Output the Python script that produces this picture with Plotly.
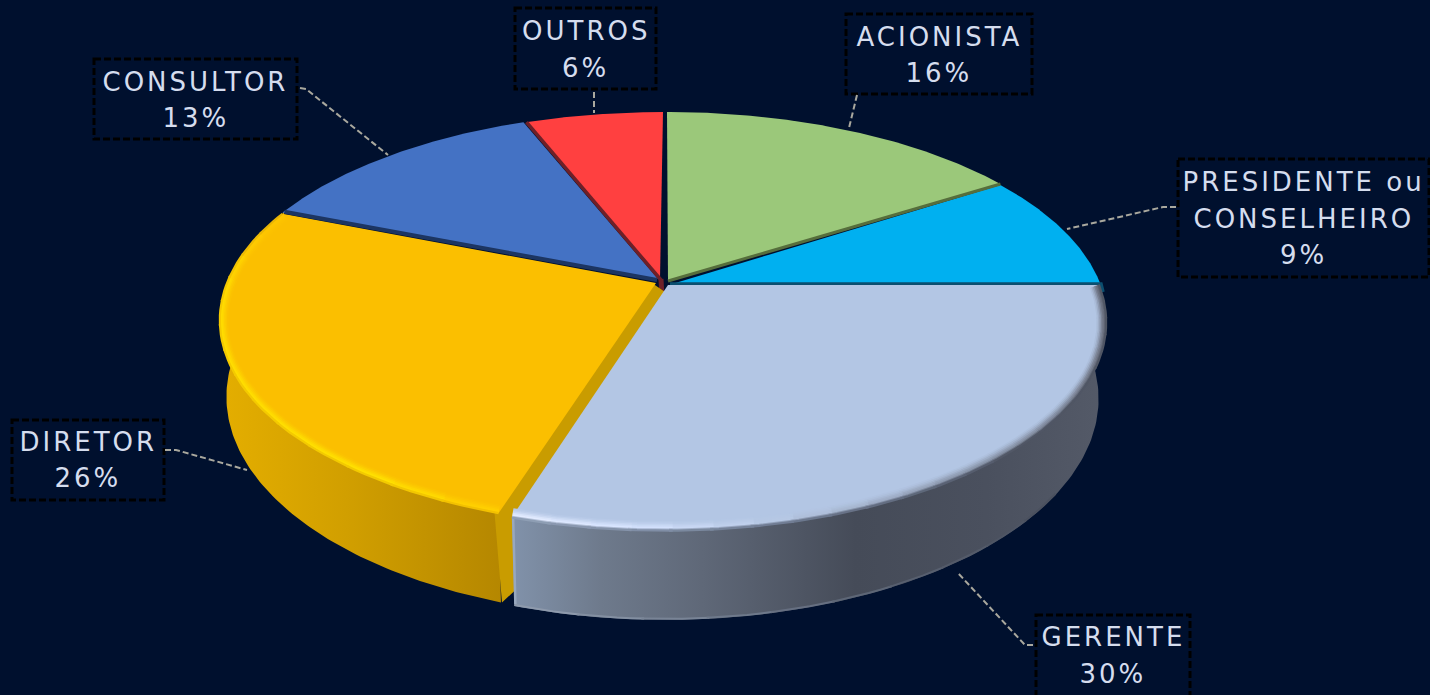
import numpy as np
import plotly.graph_objects as go

# ---- data ----
categories = ["ACIONISTA", "PRESIDENTE ou\nCONSELHEIRO", "GERENTE", "DIRETOR", "CONSULTOR", "OUTROS"]
values = [16, 9, 30, 26, 13, 6]

# ---- style ----
BG = "#00102E"
TXT = "#D5DDEE"
face = ["#9BC87A", "#00B0F0", "#B3C6E4", "#FBBF00", "#4472C4", "#FF4040"]
offset = [(4, 0), (4, 1), (2, 3), (-3, 1), (-3, 0), (0, 0)]
apex = [(668, 281), (672, 284), (668, 285), (656, 283), (658, 279), (660, 279)]
CX, CY, A, B, K, D, S = 663, 282, 433, 200.6, 0.18, 74, 0.985
ELL_C = (663, 322)

# label boxes: (x0, y0, x1, y1), line centres
boxes = [
    ((846, 14, 1032, 94), (37, 73)),
    ((1178, 159, 1429, 277), (182, 219, 255)),
    ((1036, 615, 1190, 697), (637, 674)),
    ((12, 420, 164, 500), (442, 478)),
    ((94, 59, 297, 139), (82, 118)),
    ((515, 8, 656, 89), (31, 68)),
]
leaders = [
    [(857, 95), (849, 128)],
    [(1176, 207), (1163, 207), (1067, 229)],
    [(1033, 645), (1025, 645), (957, 572)],
    [(165, 450), (176, 450), (247, 470)],
    [(300, 88), (306, 89), (388, 155)],
    [(594, 92), (594, 113)],
]

# ---- geometry from the values ----
cum = np.concatenate([[0], np.cumsum(values)]) / sum(values) * 360.0


def top(th, i, r=1.0):
    t = np.radians(th)
    u, v = r * np.sin(t), r * np.cos(t)
    w = 1 + K * v
    return CX + offset[i][0] + A * u / w, CY + offset[i][1] - B * v / w


def bottom(th, i):
    t = np.radians(th)
    u, v = np.sin(t), np.cos(t)
    w = 1 + K * v
    return CX + offset[i][0] + A * S * u / w, CY + offset[i][1] - B * v / w + D / w


def mix(c1, c2, f):
    a = [int(c1[j:j + 2], 16) for j in (1, 3, 5)]
    b = [int(c2[j:j + 2], 16) for j in (1, 3, 5)]
    return "#%02x%02x%02x" % tuple(int(round(p + (q - p) * f)) for p, q in zip(a, b))


fig = go.Figure()


def poly(x, y, color=None, grad=None):
    kw = dict(fillgradient=grad) if grad else dict(fillcolor=color)
    fig.add_trace(go.Scatter(x=list(x), y=list(y), mode="lines", fill="toself",
                             line=dict(width=0, color=color or "rgba(0,0,0,0)"),
                             hoverinfo="skip", showlegend=False, **kw))


def line(x, y, color, width):
    fig.add_trace(go.Scatter(x=list(x), y=list(y), mode="lines",
                             line=dict(color=color, width=width),
                             hoverinfo="skip", showlegend=False))


def face_poly(i, a0, a1):
    th = np.linspace(a0, a1, 120)
    x, y = top(th, i)
    poly([apex[i][0], *x], [apex[i][1], *y], face[i])


def wall(i, a0, a1, stops):
    th = np.linspace(a0, a1, 120)
    x0, y0 = top(th, i)
    x1, y1 = bottom(th, i)
    poly([*x0, *x1[::-1]], [*y0, *y1[::-1]],
         grad=dict(type="horizontal", colorscale=stops))


def inset(th, i, px):
    """rim points moved px pixels towards the middle of the disc"""
    x, y = top(th, i)
    dx, dy = np.gradient(x), np.gradient(y)
    n = np.hypot(dx, dy)
    nx, ny = dy / n, -dx / n
    sgn = np.sign(nx * (ELL_C[0] - x) + ny * (ELL_C[1] - y))
    return x + sgn * nx * px, y + sgn * ny * px


def rim(i, a0, a1, col_fn, outer_fn, seg=24, bulge=True):
    ed = np.linspace(a0, a1, seg + 1)
    layers = [(7.5, 0.10, 0), (6, 0.28, 0), (4.5, 0.52, 0), (3, 0.80, 0),
              (1.5, 1.0, 0), (0, 1.0, 0.45)]
    if bulge:
        layers.append((-1.0, 1.0, 0.9))
    for px, f, g in layers:
        for k in range(seg):
            th = np.linspace(ed[k], min(ed[k + 1] + 0.4, a1), 6)
            x, y = inset(th, i, px)
            t = (ed[k] - a0) / (a1 - a0)
            c = mix(mix(face[i], col_fn(t), f), outer_fn(t), g)
            line(x, y, c, 2.2)


def interp_col(stops):
    pos = [s[0] for s in stops]

    def fn(t):
        for j in range(len(stops) - 1):
            if t <= pos[j + 1]:
                return mix(stops[j][1], stops[j + 1][1], (t - pos[j]) / (pos[j + 1] - pos[j]))
        return stops[-1][1]
    return fn


# back slices
for i in (0, 5, 4):
    face_poly(i, cum[i], cum[i + 1])

# Outros edge on the Consultor side
x, y = top(cum[5], 5)
line([x, apex[5][0] + 1], [y, apex[5][1] + 1], "#6E2028", 3.5)
line([apex[5][0] + 1, apex[5][0] + 2], [apex[5][1], apex[5][1] + 19], "#6E2028", 5)

# Presidente
face_poly(1, cum[1], cum[2])
x, y = top(cum[1], 0)
line([apex[0][0], x], [apex[0][1], y], "#566E3C", 3)
x, y = top(cum[2], 1)
line([apex[1][0] - 2, x + 1, x + 3], [apex[1][1], y + 1, y + 9], "#0B4F70", 3.5)

# Diretor wall, radial wall, face
i = 3
wall(i, cum[i], 292, [[0, "#E4AE00"], [0.45, "#D19F00"], [1, "#B58700"]])
x0, y0 = top(cum[i], i)
x1, y1 = bottom(cum[i], i)
poly([apex[i][0] - 4, x0 - 4, x1 + 1, x1 + 14, x0 + 22, apex[i][0] + 22],
     [apex[i][1], y0, y1, y1 - 12, y0, apex[i][1] + 18], "#C99C00")
face_poly(i, cum[i], cum[i + 1])
x, y = top(cum[i + 1], i)
line([apex[i][0] + 1, x + 2], [apex[i][1] - 3, y - 2], "#1C3562", 4)
rim(i, cum[i], cum[i + 1],
    interp_col([(0, "#FFD000"), (0.12, "#FFE000"), (0.7, "#FFDC00"), (0.85, "#FFCC00"), (1, "#FBC000")]),
    interp_col([(0, "#E4AE00"), (0.7, "#E8B400"), (1, "#C89A10")]), seg=14, bulge=False)

# Gerente wall and face
i = 2
a1 = cum[i + 1] - 1.0
wall(i, cum[i], a1, [[0, "#8192AA"], [0.15, "#6E7A8C"], [0.32, "#5F6878"],
                     [0.58, "#454B58"], [0.8, "#4A505E"], [1, "#545A68"]])
x0, y0 = top(a1, i)
x1, y1 = bottom(a1, i)
line([x0 + 1, x1 + 1], [y0, y1 - 2], "#98A8BE", 2.5)
ed = np.linspace(a1, 125, 11)
wall_shade = interp_col([(0, "#8E9AAC"), (0.3, "#717C8E"), (0.6, "#5A6272"), (1, "#4A505E")])
for k in range(10):
    th = np.linspace(ed[k], ed[k + 1] - 0.3, 6)
    x, y = bottom(th, i)
    line(x, y - 1, wall_shade(k / 9), 2)
face_poly(i, cum[i], a1)
rim(i, cum[i], a1,
    interp_col([(0, "#6A7080"), (0.2, "#737A8A"), (0.5, "#8E9AB0"), (0.7, "#B5C6E2"),
                (0.85, "#D6E3FF"), (1, "#E6EEFF")]),
    interp_col([(0, "#4E5462"), (0.4, "#4A505E"), (0.7, "#68748A"), (1, "#8A9AB2")]))

# ---- labels ----
shapes, annotations = [], []
for (x0, y0, x1, y1), _ in boxes:
    shapes.append(dict(type="rect", x0=x0, y0=y0, x1=x1, y1=y1, xref="x", yref="y",
                       line=dict(color="#000000", width=3, dash="7px,3px")))
for pts in leaders:
    path = "M " + " L ".join(f"{px} {py}" for px, py in pts)
    shapes.append(dict(type="path", path=path, xref="x", yref="y",
                       line=dict(color="#A9A89E", width=2, dash="6px,3px")))

for cat, val, (bx, ys) in zip(categories, values, boxes):
    lines = cat.split("\n") + [f"{val}%"]
    xc = (bx[0] + bx[2]) / 2
    for txt, yc in zip(lines, ys):
        annotations.append(dict(x=xc, y=yc, text=txt, xref="x", yref="y", showarrow=False,
                                xanchor="center", yanchor="middle",
                                font=dict(family="DejaVu Sans", size=26, color=TXT)))

fig.update_layout(
    width=1430, height=695, margin=dict(l=0, r=0, t=0, b=0),
    paper_bgcolor=BG, plot_bgcolor=BG, showlegend=False,
    xaxis=dict(range=[0, 1430], visible=False, fixedrange=True),
    yaxis=dict(range=[695, 0], visible=False, fixedrange=True),
    shapes=shapes, annotations=annotations,
)

post = """
document.body.style.margin='0';document.body.style.background='%s';document.body.style.overflow='hidden';
function ls(){document.querySelectorAll('.annotation-text').forEach(function(t){t.style.letterSpacing='3px';});}
ls();setTimeout(ls,50);
""" % BG
fig.write_html("out.html", post_script=post, config=dict(displayModeBar=False))
